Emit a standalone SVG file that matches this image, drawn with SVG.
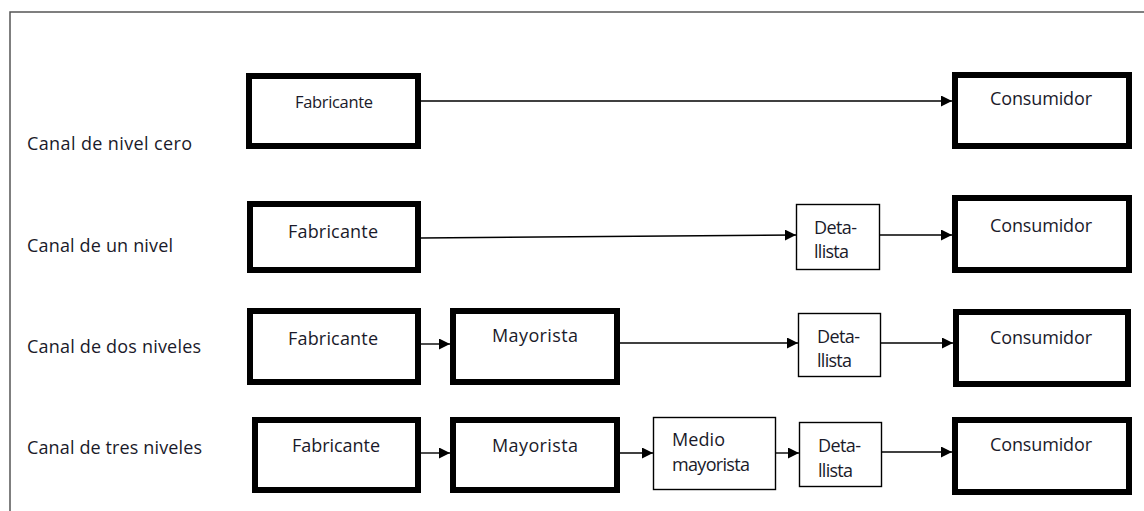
<svg xmlns="http://www.w3.org/2000/svg" width="1144" height="511" viewBox="0 0 1144 511">
<defs>
<marker id="ah" markerUnits="userSpaceOnUse" markerWidth="11" markerHeight="11" refX="11" refY="5.5" orient="auto">
<path d="M0,0 L11,5.5 L0,11 z" fill="#000"/>
</marker>
<style>
.thick{fill:#fff;stroke:#000;stroke-width:6}
.thin{fill:#fff;stroke:#000;stroke-width:1.4}
.t{font-family:"Open Sans","Liberation Sans",sans-serif;font-size:18px;fill:#1a1a2a}
.small{font-size:16.5px}
.lbl{font-family:"Open Sans","Liberation Sans",sans-serif;font-size:18px;fill:#1a1a2a}
.c{stroke:#000;stroke-width:1.4;fill:none;marker-end:url(#ah)}
.frame{stroke:#555;stroke-width:1.5;fill:none}
</style>
</defs>
<rect x="0" y="0" width="1144" height="511" fill="#fff"/>
<path class="frame" d="M10,511 L10,12 L1144,12"/>

<g id="labels">
<text class="lbl" x="27" y="150" textLength="165" lengthAdjust="spacing">Canal de nivel cero</text>
<text class="lbl" x="27" y="252" textLength="146" lengthAdjust="spacing">Canal de un nivel</text>
<text class="lbl" x="27" y="353" textLength="174" lengthAdjust="spacing">Canal de dos niveles</text>
<text class="lbl" x="27" y="454" textLength="175" lengthAdjust="spacing">Canal de tres niveles</text>
</g>

<g id="connectors">
<line class="c" x1="421" y1="101" x2="952" y2="101"/>
<line class="c" x1="421" y1="238" x2="796" y2="235"/>
<line class="c" x1="880" y1="235" x2="952" y2="235"/>
<line class="c" x1="421" y1="344" x2="450" y2="344"/>
<line class="c" x1="620" y1="343" x2="798" y2="343"/>
<line class="c" x1="881" y1="343" x2="953" y2="343"/>
<line class="c" x1="421" y1="453" x2="450" y2="453"/>
<line class="c" x1="620" y1="453" x2="653" y2="453"/>
<line class="c" x1="776" y1="453" x2="799" y2="453"/>
<line class="c" x1="879" y1="452" x2="952" y2="452"/>
</g>

<g id="r1-fabricante">
<rect class="thick" x="249" y="76" width="169" height="70"/>
<text class="t small" x="295" y="108" textLength="78" lengthAdjust="spacing">Fabricante</text>
</g>
<g id="r1-consumidor">
<rect class="thick" x="955" y="75" width="174" height="71"/>
<text class="t" x="990" y="105" textLength="102" lengthAdjust="spacing">Consumidor</text>
</g>

<g id="r2-fabricante">
<rect class="thick" x="250" y="204" width="168" height="66"/>
<text class="t" x="288" y="238" textLength="90" lengthAdjust="spacing">Fabricante</text>
</g>
<g id="r2-detallista">
<rect class="thin" x="796.5" y="204.5" width="83" height="65"/>
<text class="t" x="814" y="234" textLength="43" lengthAdjust="spacing">Deta-</text>
<text class="t" x="814" y="258" textLength="35" lengthAdjust="spacing">llista</text>
</g>
<g id="r2-consumidor">
<rect class="thick" x="955" y="198" width="174" height="72"/>
<text class="t" x="990" y="232" textLength="102" lengthAdjust="spacing">Consumidor</text>
</g>

<g id="r3-fabricante">
<rect class="thick" x="250" y="311" width="168" height="71"/>
<text class="t" x="288" y="345" textLength="90" lengthAdjust="spacing">Fabricante</text>
</g>
<g id="r3-mayorista">
<rect class="thick" x="453" y="311" width="164" height="71"/>
<text class="t" x="492" y="342" textLength="86" lengthAdjust="spacing">Mayorista</text>
</g>
<g id="r3-detallista">
<rect class="thin" x="798.5" y="313.5" width="82" height="63"/>
<text class="t" x="817" y="343" textLength="43" lengthAdjust="spacing">Deta-</text>
<text class="t" x="817" y="367" textLength="35" lengthAdjust="spacing">llista</text>
</g>
<g id="r3-consumidor">
<rect class="thick" x="956" y="312" width="172" height="72"/>
<text class="t" x="990" y="344" textLength="102" lengthAdjust="spacing">Consumidor</text>
</g>

<g id="r4-fabricante">
<rect class="thick" x="255" y="420" width="163" height="70"/>
<text class="t" x="292" y="452" textLength="88" lengthAdjust="spacing">Fabricante</text>
</g>
<g id="r4-mayorista">
<rect class="thick" x="453" y="420" width="164" height="70"/>
<text class="t" x="492" y="452" textLength="86" lengthAdjust="spacing">Mayorista</text>
</g>
<g id="r4-medio-mayorista">
<rect class="thin" x="653.5" y="417.5" width="122" height="72"/>
<text class="t" x="672" y="446" textLength="53" lengthAdjust="spacing">Medio</text>
<text class="t" x="672" y="471" textLength="78" lengthAdjust="spacing">mayorista</text>
</g>
<g id="r4-detallista">
<rect class="thin" x="799.5" y="422.5" width="82" height="64"/>
<text class="t" x="818" y="452" textLength="43" lengthAdjust="spacing">Deta-</text>
<text class="t" x="818" y="477" textLength="35" lengthAdjust="spacing">llista</text>
</g>
<g id="r4-consumidor">
<rect class="thick" x="955" y="420" width="174" height="72"/>
<text class="t" x="990" y="451" textLength="102" lengthAdjust="spacing">Consumidor</text>
</g>
</svg>
